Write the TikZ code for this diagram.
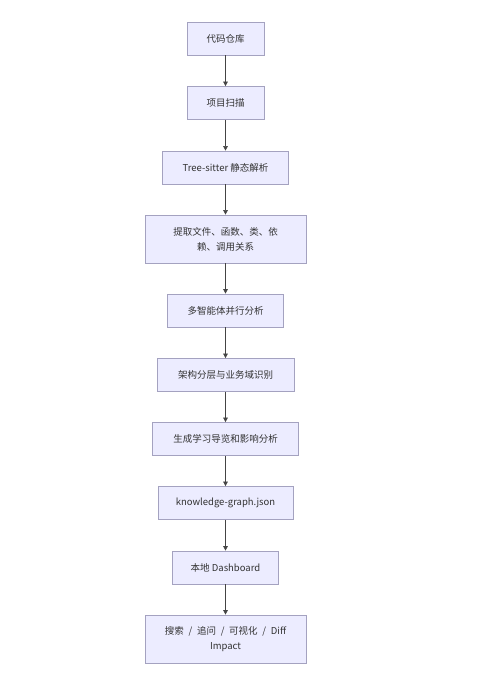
\documentclass[tikz,border=0pt]{standalone}
\usepackage{fontspec}
\setmainfont{Noto Sans CJK SC}
\usetikzlibrary{arrows.meta}
\definecolor{boxfill}{HTML}{ECECFF}
\definecolor{boxline}{HTML}{A4A2C0}
\definecolor{arrowc}{HTML}{444444}
\definecolor{txt}{HTML}{333333}
\tikzset{
  stepbox/.style={draw=boxline, fill=boxfill, line width=0.7pt, text=txt,
    font=\fontsize{9.5}{15}\selectfont, align=center, inner sep=0pt, minimum height=33pt},
  conn/.style={draw=arrowc, line width=0.6pt, -{Triangle[length=4.5pt,width=4.5pt]}}
}
\begin{document}
\begin{tikzpicture}[x=1pt,y=-1pt]
\useasboundingbox[fill=white] (0,0) rectangle (489,684);
\node[stepbox, minimum width=77pt] (n1) at (225.5,38.5) {代码仓库};
\node[stepbox, minimum width=77pt] (n2) at (225.5,103) {项目扫描};
\node[stepbox, minimum width=126pt] (n3) at (225.5,167.5) {Tree-sitter 静态解析};
\node[stepbox, minimum width=161pt, minimum height=48pt] (n4) at (225.5,239) {提取文件、函数、类、依\\赖、调用关系};
\node[stepbox, minimum width=116pt] (n5) at (225.5,310.5) {多智能体并行分析};
\node[stepbox, minimum width=137pt] (n6) at (225.5,375) {架构分层与业务域识别};
\node[stepbox, minimum width=146pt] (n7) at (225.5,439) {生成学习导览和影响分析};
\node[stepbox, minimum width=135pt] (n8) at (225.5,503) {knowledge-graph.json};
\node[stepbox, minimum width=106pt] (n9) at (225.5,567.5) {本地 Dashboard};
\node[stepbox, minimum width=161pt, minimum height=48pt] (n10) at (225.5,639) {搜索\hspace{0.5em}/\hspace{0.5em}追问\hspace{0.5em}/\hspace{0.5em}可视化\hspace{0.5em}/\hspace{0.5em}Diff\\Impact};
\foreach \a/\b in {n1/n2,n2/n3,n3/n4,n4/n5,n5/n6,n6/n7,n7/n8,n8/n9,n9/n10}
  \draw[conn] (\a) -- (\b);
\end{tikzpicture}
\end{document}
